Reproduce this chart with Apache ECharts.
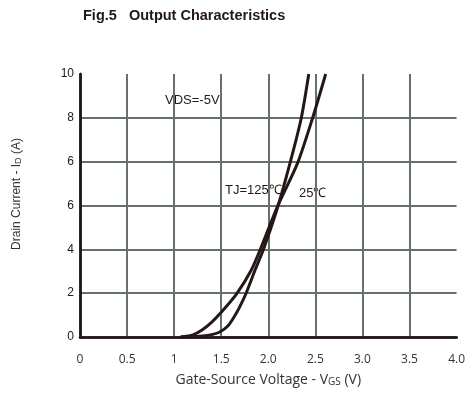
<!DOCTYPE html>
<html>
<head>
<meta charset="utf-8">
<script src="https://cdn.jsdelivr.net/npm/echarts@6/dist/echarts.min.js"></script>
<style>
  html, body { margin: 0; padding: 0; background: #fff; }
  #chart { width: 468px; height: 394px; }
</style>
</head>
<body>
<div id="chart"></div>
<script>
// tick labels as printed on the original figure (note the repeated "6")
var xTickLabels = ['0', '0.5', '1', '1.5', '2.0', '2.5', '3.0', '3.5', '4.0'];
var yTickLabels = ['0', '2', '4', '6', '6', '8', '10'];

// TJ = 125 °C : [Vgs, Id]
var curve125 = [
    [1.07, 0], [1.2, 0.1], [1.3, 0.33], [1.4, 0.68], [1.49, 1.08],
    [1.66, 1.95], [1.82, 3.06], [1.93, 4.15], [2.095, 5.93], [2.31, 7.92],
    [2.47, 9.98], [2.61, 12.0]
];
// TJ = 25 °C
var curve25 = [
    [1.07, 0], [1.305, 0.05], [1.40, 0.11], [1.49, 0.24], [1.57, 0.50],
    [1.63, 0.87], [1.69, 1.32], [1.76, 1.95], [1.86, 3.06], [1.95, 4.01],
    [2.10, 5.93], [2.23, 7.92], [2.35, 9.98], [2.43, 12.0]
];

var ink = '#231815';
var gridGray = '#66706e';

var chart = echarts.init(document.getElementById('chart'));

var option = {
    animation: false,
    backgroundColor: '#fff',
    title: {
        text: 'Fig.5   Output Characteristics',
        left: 83,
        top: 8,
        padding: 0,
        textStyle: { fontFamily: 'Liberation Sans', fontWeight: 'bold', fontSize: 14.5, color: ink }
    },
    grid: { left: 80, right: 10, top: 74, bottom: 57 },
    xAxis: [{
        type: 'value',
        min: 0, max: 4, interval: 0.5,
        axisLine: { show: true, onZero: false, lineStyle: { color: ink, width: 2.5 } },
        axisTick: { show: false },
        splitLine: { show: true, showMinLine: false, showMaxLine: false, lineStyle: { color: gridGray, width: 2 } },
        axisLabel: {
            margin: 17,
            fontFamily: 'Open Sans', fontSize: 12, color: '#333',
            formatter: function (v) { return xTickLabels[Math.round(v / 0.5)]; }
        },
        name: 'Gate-Source Voltage - V{s|GS} (V)',
        nameLocation: 'middle',
        nameGap: 36,
        nameTextStyle: {
            fontFamily: 'Open Sans', fontSize: 14, color: '#333',
            rich: { s: { fontFamily: 'Open Sans', fontSize: 10, color: '#333', verticalAlign: 'bottom', padding: [3, 0, 0, 0] } }
        }
    }, {
        type: 'value', position: 'top',
        min: 0, max: 4,
        axisLine: { show: true, lineStyle: { color: ink, width: 2.5 } },
        axisTick: { show: false }, axisLabel: { show: false }, splitLine: { show: false }
    }],
    yAxis: [{
        type: 'value',
        min: 0, max: 12, interval: 2,
        axisLine: { show: true, onZero: false, lineStyle: { color: ink, width: 2.5 } },
        axisTick: { show: false },
        splitLine: { show: true, showMinLine: false, showMaxLine: false, lineStyle: { color: gridGray, width: 2 } },
        axisLabel: {
            margin: 6,
            fontFamily: 'Liberation Sans', fontSize: 12, color: ink,
            formatter: function (v) { return yTickLabels[Math.round(v / 2)]; }
        }
    }, {
        type: 'value', position: 'right',
        min: 0, max: 12,
        axisLine: { show: true, lineStyle: { color: ink, width: 2.5 } },
        axisTick: { show: false }, axisLabel: { show: false }, splitLine: { show: false }
    }],
    graphic: [
        {
            type: 'text', x: 17, y: 194, rotation: Math.PI / 2,
            style: {
                text: 'Drain Current - I{s|D} (A)',
                font: '12px "Liberation Sans"', fill: '#333',
                align: 'center', verticalAlign: 'middle',
                rich: { s: { fontFamily: 'Liberation Sans', fontSize: 9, fill: '#333', padding: [3, 0, 0, 0] } }
            }
        },
        {
            type: 'text', x: 165, y: 100,
            style: { text: 'VDS=-5V', font: '13px "Liberation Sans"', fill: ink, verticalAlign: 'middle' }
        },
        {
            type: 'text', x: 225, y: 190,
            style: { text: 'TJ=125℃', font: '13px "Liberation Sans"', fill: ink, verticalAlign: 'middle' }
        },
        {
            type: 'text', x: 299, y: 193,
            style: { text: '25℃', font: '13px "Liberation Sans"', fill: ink, verticalAlign: 'middle' }
        }
    ],
    series: [
        {
            name: 'TJ=125℃', type: 'line', data: curve125,
            smooth: 0.25, showSymbol: false, clip: true,
            lineStyle: { color: ink, width: 3 }
        },
        {
            name: 'TJ=25℃', type: 'line', data: curve25,
            smooth: 0.25, showSymbol: false, clip: true,
            lineStyle: { color: ink, width: 3 }
        }
    ]
};

chart.setOption(option);
</script>
</body>
</html>
